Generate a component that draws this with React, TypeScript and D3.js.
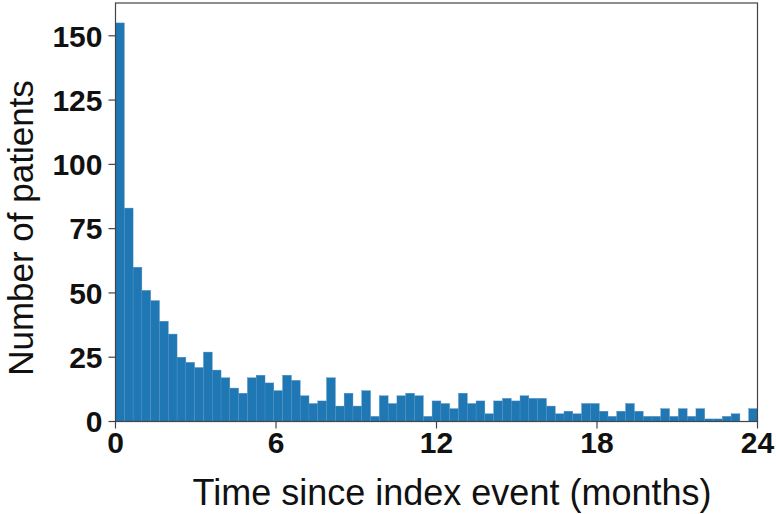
import React from "react";
import * as d3 from "d3";

// Histogram counts, one per 10-day bin from 0 to 24 months (73 bins)
const counts: number[] = [
  155, 83, 60, 51, 47, 39, 34, 25, 23, 21,
  27, 20, 17, 13, 11, 17, 18, 15, 12, 18,
  16, 10, 7, 8, 17, 6, 11, 6, 12, 2,
  10, 7, 10, 11, 10, 2, 8, 7, 5, 11,
  7, 8, 3, 8, 9, 8, 10, 9, 9, 6,
  3, 4, 3, 7, 7, 4, 2, 4, 7, 4,
  2, 2, 5, 2, 5, 2, 5, 1, 1, 2,
  3, 0, 5,
];
const xTicks: number[] = [0, 6, 12, 18, 24];
const yTicks: number[] = [0, 25, 50, 75, 100, 125, 150];
const xMax = 24;
const xLabel = "Time since index event (months)";
const yLabel = "Number of patients";

export default function App() {
  const W = 776, H = 514;
  const left = 115.5, right = 757.5, top = 3, bottom = 421.5;
  const x = d3.scaleLinear().domain([0, xMax]).range([left, right]);
  const yMaxVal = (d3.max(counts) as number) * 1.05;
  const y = d3.scaleLinear().domain([0, yMaxVal]).range([bottom, top]);
  const bw = xMax / counts.length;
  const font = "'Liberation Sans', Arial, Helvetica, sans-serif";
  return (
    <svg width={W} height={H} style={{ position: "absolute", left: 0, top: 0, background: "#fff" }}>
      {counts.map((c, i) => (
        <rect
          key={i}
          x={x(i * bw)}
          y={y(c)}
          width={x((i + 1) * bw) - x(i * bw)}
          height={bottom - y(c)}
          fill="#1f77b4"
          stroke="#4f8fc4"
          strokeWidth={0.4}
        />
      ))}
      <rect x={left} y={top} width={right - left} height={bottom - top} fill="none" stroke="#444" strokeWidth={1.2} />
      {yTicks.map((t) => (
        <g key={"y" + t}>
          <line x1={left - 7} x2={left} y1={y(t)} y2={y(t)} stroke="#444" strokeWidth={1.2} />
          <text x={left - 13} y={y(t)} dy="0.36em" textAnchor="end" fontFamily={font} fontWeight="bold" fontSize={30} fill="#111">
            {t}
          </text>
        </g>
      ))}
      {xTicks.map((t) => (
        <g key={"x" + t}>
          <line x1={x(t)} x2={x(t)} y1={bottom} y2={bottom + 7} stroke="#444" strokeWidth={1.2} />
          <text x={x(t)} y={bottom + 31} textAnchor="middle" fontFamily={font} fontWeight="bold" fontSize={30} fill="#111">
            {t}
          </text>
        </g>
      ))}
      <text x={452} y={505} textAnchor="middle" fontFamily={font} fontSize={36} fill="#111">
        {xLabel}
      </text>
      <text transform={`translate(33,228) rotate(-90)`} textAnchor="middle" fontFamily={font} fontSize={35} fill="#111">
        {yLabel}
      </text>
    </svg>
  );
}
